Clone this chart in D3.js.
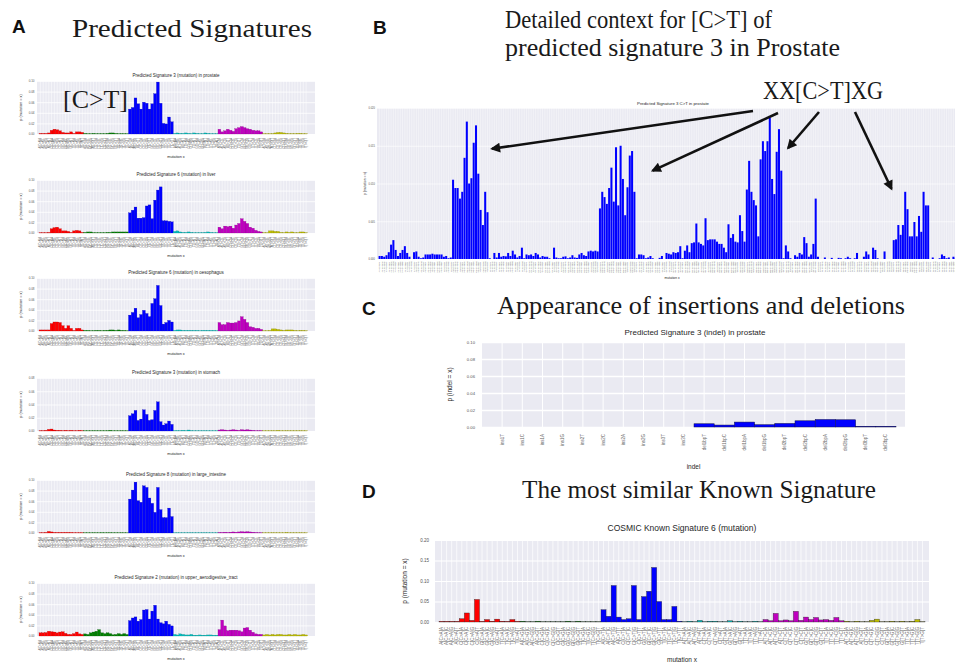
<!DOCTYPE html>
<html>
<head>
<meta charset="utf-8">
<script src="https://cdn.jsdelivr.net/npm/d3@7"></script>
<style>
  body { margin: 0; background: #fff; }
  svg { display: block; font-family: "Liberation Sans", Arial, sans-serif; }
  .serif { font-family: "Liberation Serif", "Times New Roman", serif; fill: #1a1a1a; }
  .letter { font-family: "Liberation Sans", Arial, sans-serif; font-weight: bold; fill: #111; }
</style>
</head>
<body>
<svg id="fig" width="955" height="665"></svg>
<script>
// ---------- data ----------
const bases = ['A', 'C', 'G', 'T'];
const substitutions = ['C>A', 'C>G', 'C>T', 'T>A', 'T>C', 'T>G'];
const subColours = ['#ff0000', '#008000', '#0000ff', '#00bfbf', '#bf00bf', '#bfbf00'];

// tick labels of the 96 contexts, A[C>A]A ... T[T>G]T
const mutationLabels = [];
substitutions.forEach(s => bases.forEach(b1 => bases.forEach(b2 => mutationLabels.push(`${b1}[${s}]${b2}`))));

// tick labels of the 256 detailed C>T contexts
const ctLabels = [];
bases.forEach(b1 => bases.forEach(b2 => bases.forEach(b3 => bases.forEach(b4 => ctLabels.push(`${b1}${b2}[C>T]${b3}${b4}`)))));

const indelLabels = ['ins1T', 'ins1C', 'ins1A', 'ins1G', 'ins2T', 'ins2C', 'ins2A', 'ins2G', 'ins3T', 'ins3C',
  'del1bpT', 'del1bpC', 'del1bpA', 'del1bpG', 'del2bpT', 'del2bpC', 'del2bpA', 'del2bpG', 'del3bpT', 'del3bpC'];

const sigTitles = [
  'Predicted Signature 3 (mutation) in prostate',
  'Predicted Signature 6 (mutation) in liver',
  'Predicted Signature 6 (mutation) in oesophagus',
  'Predicted Signature 3 (mutation) in stomach',
  'Predicted Signature 8 (mutation) in large_intestine',
  'Predicted Signature 2 (mutation) in upper_aerodigestive_tract'
];
const sigYMax = [0.10, 0.10, 0.10, 0.08, 0.10, 0.10];

const sigProstate = [
  0.001, 0.001, 0.001, 0.002, 0.007, 0.009, 0.008, 0.006, 0.003, 0.002, 0.002, 0.004, 0.001, 0.004, 0.004, 0.003,
  0.001, 0.0005, 0.0005, 0.001, 0.0005, 0.0005, 0.0005, 0.0005, 0.001, 0.002, 0.002, 0.001, 0.0005, 0.0005, 0.0005, 0.0005,
  0.047, 0.050, 0.068, 0.057, 0.047, 0.060, 0.058, 0.047, 0.057, 0.076, 0.098, 0.058, 0.020, 0.019, 0.032, 0.023,
  0.001, 0.002, 0.001, 0.001, 0.002, 0.001, 0.0005, 0.002, 0.001, 0.0005, 0.0005, 0.002, 0.001, 0.0005, 0.0005, 0.0005,
  0.009, 0.004, 0.006, 0.009, 0.007, 0.005, 0.010, 0.012, 0.014, 0.012, 0.010, 0.009, 0.007, 0.006, 0.006, 0.004,
  0.0005, 0.0005, 0.0005, 0.0005, 0.002, 0.003, 0.003, 0.002, 0.001, 0.0005, 0.0005, 0.0005, 0.001, 0.001, 0.0005, 0.0005
];
const sigLiver = [
  0.0005, 0.0005, 0.0005, 0.001, 0.008, 0.010, 0.011, 0.008, 0.004, 0.004, 0.003, 0.001, 0.004, 0.005, 0.004, 0.001,
  0.001, 0.002, 0.002, 0.0005, 0.0005, 0.0005, 0.0005, 0.0005, 0.001, 0.001, 0.002, 0.002, 0.002, 0.002, 0.002, 0.002,
  0.038, 0.043, 0.049, 0.028, 0.028, 0.029, 0.051, 0.053, 0.027, 0.062, 0.081, 0.087, 0.023, 0.023, 0.022, 0.021,
  0.003, 0.004, 0.002, 0.001, 0.001, 0.002, 0.001, 0.0005, 0.0005, 0.0005, 0.0005, 0.001, 0.002, 0.001, 0.0005, 0.0005,
  0.011, 0.008, 0.013, 0.012, 0.013, 0.009, 0.015, 0.018, 0.027, 0.022, 0.018, 0.011, 0.009, 0.005, 0.003, 0.002,
  0.0005, 0.0005, 0.004, 0.004, 0.003, 0.003, 0.001, 0.0005, 0.002, 0.001, 0.002, 0.0005, 0.0005, 0.002, 0.002, 0.0005
];
const sigOesophagus = [
  0.002, 0.002, 0.002, 0.002, 0.014, 0.017, 0.017, 0.016, 0.010, 0.005, 0.010, 0.005, 0.001, 0.005, 0.005, 0.002,
  0.001, 0.001, 0.0005, 0.0005, 0.001, 0.001, 0.0005, 0.001, 0.001, 0.002, 0.002, 0.001, 0.002, 0.001, 0.001, 0.0005,
  0.030, 0.035, 0.043, 0.025, 0.031, 0.039, 0.033, 0.027, 0.052, 0.061, 0.086, 0.048, 0.013, 0.016, 0.020, 0.017,
  0.001, 0.002, 0.002, 0.001, 0.001, 0.001, 0.001, 0.001, 0.001, 0.0005, 0.001, 0.001, 0.001, 0.001, 0.001, 0.0005,
  0.016, 0.012, 0.012, 0.016, 0.015, 0.015, 0.016, 0.019, 0.027, 0.022, 0.016, 0.008, 0.007, 0.005, 0.005, 0.003,
  0.0005, 0.0005, 0.001, 0.004, 0.004, 0.003, 0.002, 0.001, 0.002, 0.002, 0.002, 0.001, 0.0005, 0.001, 0.001, 0.0005
];
const sigStomach = [
  0.0005, 0.0005, 0.001, 0.0025, 0.003, 0.0015, 0.001, 0.001, 0.0005, 0.001, 0.0005, 0.001, 0.0005, 0.0005, 0.001, 0.0005,
  0.0003, 0.0003, 0.0003, 0.0003, 0.0003, 0.0003, 0.0003, 0.0003, 0.0003, 0.001, 0.0003, 0.0003, 0.0003, 0.0003, 0.0003, 0.0003,
  0.023, 0.026, 0.031, 0.016, 0.018, 0.032, 0.025, 0.016, 0.017, 0.031, 0.044, 0.014, 0.009, 0.011, 0.015, 0.010,
  0.0005, 0.0005, 0.0005, 0.001, 0.0005, 0.0015, 0.0005, 0.0003, 0.0003, 0.0003, 0.0003, 0.0003, 0.0003, 0.0003, 0.0003, 0.0003,
  0.0015, 0.002, 0.0015, 0.001, 0.0015, 0.002, 0.0015, 0.001, 0.002, 0.0015, 0.002, 0.0015, 0.001, 0.0005, 0.0005, 0.0005,
  0.0003, 0.0003, 0.0003, 0.0003, 0.0003, 0.001, 0.0003, 0.0003, 0.0003, 0.0003, 0.0003, 0.0003, 0.0003, 0.0003, 0.0003, 0.0003
];
const sigLargeIntestine = [
  0.0005, 0.0005, 0.001, 0.003, 0.002, 0.001, 0.001, 0.001, 0.001, 0.001, 0.001, 0.001, 0.0005, 0.0005, 0.0005, 0.0005,
  0.0003, 0.0003, 0.0003, 0.0003, 0.0003, 0.0003, 0.0005, 0.0003, 0.0003, 0.0005, 0.0003, 0.0003, 0.0003, 0.0003, 0.0003, 0.0003,
  0.064, 0.081, 0.096, 0.061, 0.058, 0.089, 0.086, 0.066, 0.056, 0.039, 0.086, 0.044, 0.029, 0.029, 0.047, 0.031,
  0.0003, 0.0003, 0.0003, 0.0003, 0.0003, 0.0003, 0.0003, 0.0003, 0.0003, 0.0003, 0.0003, 0.0003, 0.0003, 0.0003, 0.0003, 0.0003,
  0.001, 0.001, 0.0015, 0.001, 0.0015, 0.002, 0.0015, 0.002, 0.0025, 0.002, 0.0025, 0.002, 0.0015, 0.001, 0.0005, 0.0005,
  0.0003, 0.0003, 0.0003, 0.0003, 0.0003, 0.0003, 0.0003, 0.0003, 0.001, 0.0003, 0.0003, 0.0003, 0.0003, 0.0003, 0.0003, 0.0003
];
const sigUpperAero = [
  0.006, 0.006, 0.0065, 0.009, 0.008, 0.0075, 0.006, 0.0075, 0.008, 0.005, 0.003, 0.003, 0.0045, 0.0075, 0.004, 0.003,
  0.004, 0.003, 0.006, 0.0075, 0.009, 0.012, 0.006, 0.0045, 0.006, 0.0045, 0.0025, 0.003, 0.0045, 0.003, 0.0045, 0.003,
  0.029, 0.034, 0.036, 0.028, 0.031, 0.049, 0.050, 0.032, 0.047, 0.058, 0.032, 0.025, 0.023, 0.028, 0.022, 0.019,
  0.003, 0.002, 0.004, 0.003, 0.002, 0.002, 0.003, 0.0015, 0.0015, 0.002, 0.0015, 0.0015, 0.002, 0.002, 0.0015, 0.0015,
  0.012, 0.030, 0.019, 0.010, 0.011, 0.011, 0.011, 0.010, 0.008, 0.015, 0.016, 0.011, 0.007, 0.004, 0.003, 0.003,
  0.002, 0.003, 0.002, 0.003, 0.002, 0.003, 0.003, 0.002, 0.002, 0.003, 0.002, 0.003, 0.002, 0.002, 0.003, 0.002
];

// detailed C>T context of signature 3 in prostate, by first base
const ctFirstA = [
  0.0004, 0.0004, 0.0003, 0.0005, 0.0009, 0.0019, 0.0025, 0.0012, 0.0004, 0.0008, 0.0012, 0.0017, 0.0008, 0.0003, 0.0000, 0.0009,
  0.0010, 0.0003, 0.0001, 0.0002, 0.0006, 0.0006, 0.0006, 0.0007, 0.0006, 0.0006, 0.0006, 0.0006, 0.0003, 0.0004, 0.0001, 0.0002,
  0.0105, 0.0094, 0.0094, 0.0080, 0.0089, 0.0134, 0.0182, 0.0100, 0.0107, 0.0154, 0.0177, 0.0113, 0.0065, 0.0045, 0.0089, 0.0062,
  0.0001, 0.0000, 0.0008, 0.0002, 0.0008, 0.0003, 0.0004, 0.00035, 0.0008, 0.0004, 0.0011, 0.0006, 0.0002, 0.0004, 0.0015, 0.0001
];
const ctFirstC = [
  0.0006, 0.0005, 0.0006, 0.0004, 0.0008, 0.0006, 0.0002, 0.0004, 0.0003, 0.0003, 0.0001, 0.0000, 0.0015, 0.0002, 0.0001, 0.0001,
  0.0003, 0.00035, 0.0001, 0.0002, 0.0005, 0.0002, 0.00015, 0.0006, 0.0008, 0.0005, 0.0004, 0.0010, 0.0011, 0.0010, 0.0011, 0.0010,
  0.0067, 0.0089, 0.0082, 0.0073, 0.0094, 0.0121, 0.0076, 0.0148, 0.0071, 0.0150, 0.0106, 0.0058, 0.0095, 0.0137, 0.0143, 0.0089,
  0.0001, 0.0006, 0.0006, 0.0005, 0.0001, 0.0002, 0.0004, 0.0001, 0.0000, 0.0000, 0.00015, 0.0004, 0.0000, 0.0008, 0.0007, 0.0006
];
const ctFirstG = [
  0.0009, 0.0008, 0.0009, 0.0017, 0.0001, 0.0011, 0.0018, 0.0009, 0.0021, 0.0022, 0.0047, 0.0022, 0.0020, 0.0018, 0.0054, 0.0025,
  0.0026, 0.0026, 0.0026, 0.0023, 0.0020, 0.0020, 0.0015, 0.0009, 0.0046, 0.0028, 0.0033, 0.0023, 0.0022, 0.0058, 0.0037, 0.0023,
  0.0092, 0.0130, 0.0089, 0.0078, 0.0071, 0.0030, 0.0132, 0.0156, 0.0143, 0.0156, 0.0187, 0.0106, 0.0086, 0.0142, 0.0172, 0.0117,
  0.0001, 0.0018, 0.0010, 0.0001, 0.0000, 0.0005, 0.0003, 0.0008, 0.0006, 0.0029, 0.0021, 0.0003, 0.0006, 0.0020, 0.0080, 0.0003
];
const ctFirstT = [
  0.0000, 0.0000, 0.0002, 0.0000, 0.0000, 0.00015, 0.0000, 0.0000, 0.00015, 0.0001, 0.0000, 0.0001, 0.0003, 0.0001, 0.0000, 0.0001,
  0.0008, 0.0000, 0.0000, 0.0003, 0.0010, 0.0006, 0.0000, 0.0015, 0.0012, 0.0001, 0.0000, 0.0000, 0.0010, 0.0000, 0.0000, 0.0000,
  0.0025, 0.0026, 0.0045, 0.0032, 0.0045, 0.0089, 0.0066, 0.0030, 0.0030, 0.0049, 0.0030, 0.0057, 0.0036, 0.0089, 0.0071, 0.0071,
  0.0000, 0.0002, 0.0000, 0.0000, 0.0001, 0.0006, 0.0004, 0.0001, 0.0002, 0.0000, 0.0003, 0.0001, 0.0000, 0.0002, 0.0001, 0.0000
];

const indelValues = [0, 0, 0, 0, 0, 0, 0, 0, 0, 0,
  0.0038, 0.0023, 0.0058, 0.0027, 0.0042, 0.0073, 0.0088, 0.0085, 0.0008, 0.0008];

const cosmicSig6 = [
  0.0016, 0.0016, 0.0016, 0.0016, 0.008, 0.022, 0.004, 0.055, 0.0016, 0.006, 0.002, 0.007, 0.002, 0.0016, 0.006, 0.0016,
  0.002, 0.0005, 0.0005, 0.002, 0.0005, 0.0005, 0.0005, 0.0005, 0.0005, 0.002, 0.0005, 0.002, 0.0005, 0.0005, 0.0005, 0.0005,
  0.030, 0.014, 0.089, 0.012, 0.006, 0.008, 0.089, 0.006, 0.062, 0.075, 0.133, 0.050, 0.006, 0.006, 0.038, 0.002,
  0.0005, 0.002, 0.0005, 0.004, 0.0005, 0.002, 0.002, 0.0005, 0.0005, 0.003, 0.0005, 0.002, 0.0005, 0.0005, 0.002, 0.0005,
  0.006, 0.003, 0.021, 0.003, 0.005, 0.003, 0.026, 0.004, 0.012, 0.006, 0.011, 0.005, 0.006, 0.004, 0.011, 0.003,
  0.002, 0.0005, 0.002, 0.0005, 0.0005, 0.004, 0.007, 0.0005, 0.0005, 0.002, 0.0005, 0.002, 0.0005, 0.002, 0.006, 0.0005
];

// ---------- drawing ----------
const svg = d3.select('#fig');
const subColour = i => subColours[Math.floor(i / 16)];

// one seaborn-like bar chart
function barChart(cfg) {
  const g = svg.append('g');
  const n = cfg.values.length;
  const x = d3.scaleBand().domain(d3.range(n)).range(cfg.band).paddingInner(cfg.pad || 0);
  const y = d3.scaleLinear().domain([0, cfg.yMax]).range([cfg.bottom, cfg.top]);
  const mid = i => x(i) + x.bandwidth() / 2;
  const cx = (cfg.left + cfg.right) / 2;

  g.append('rect')
    .attr('x', cfg.left).attr('y', cfg.top)
    .attr('width', cfg.right - cfg.left).attr('height', cfg.bottom - cfg.top)
    .attr('fill', '#eaeaf2');

  g.append('g').selectAll('line')
    .data(d3.range(n))
    .join('line')
    .attr('x1', mid).attr('x2', mid)
    .attr('y1', cfg.top).attr('y2', cfg.bottom)
    .attr('stroke', '#fff')
    .attr('stroke-width', cfg.grid);

  const yAxis = d3.axisLeft(y)
    .tickValues(cfg.yTicks)
    .tickSize(-(cfg.right - cfg.left))
    .tickFormat(d3.format(cfg.fmt));

  const axis = g.append('g')
    .attr('transform', `translate(${cfg.left},0)`)
    .call(yAxis);
  axis.attr('font-family', null);
  axis.select('.domain').remove();
  axis.selectAll('.tick line').attr('stroke', '#fff').attr('stroke-width', cfg.grid * 1.6);
  axis.selectAll('.tick text')
    .attr('x', -cfg.tickGap)
    .attr('font-size', cfg.tickFont)
    .attr('fill', '#555');

  g.append('g').selectAll('rect')
    .data(cfg.values)
    .join('rect')
    .attr('x', (d, i) => x(i))
    .attr('width', x.bandwidth())
    .attr('y', d => y(d))
    .attr('height', d => y(0) - y(d))
    .attr('fill', (d, i) => cfg.colour(i))
    .attr('stroke', (d, i) => cfg.edge ? cfg.edge(i) : 'none')
    .attr('stroke-width', cfg.edgeWidth || 0);

  g.append('g').selectAll('text')
    .data(cfg.labels)
    .join('text')
    .attr('transform', (d, i) => `translate(${mid(i)},${cfg.bottom + cfg.labelGap}) rotate(-90)`)
    .attr('text-anchor', 'end')
    .attr('dy', '0.35em')
    .attr('font-size', cfg.labelFont)
    .attr('fill', '#666')
    .text(d => d);

  g.append('text')
    .attr('x', cfg.titleX || cx).attr('y', cfg.top - cfg.titleGap)
    .attr('text-anchor', 'middle')
    .attr('font-size', cfg.titleFont)
    .attr('fill', '#262626')
    .text(cfg.title);

  g.append('text')
    .attr('x', cfg.xLabelX || cx).attr('y', cfg.xLabelY)
    .attr('text-anchor', 'middle')
    .attr('font-size', cfg.axisFont)
    .attr('fill', '#262626')
    .text(cfg.xLabel);

  g.append('text')
    .attr('transform', `translate(${cfg.yLabelX},${(cfg.top + cfg.bottom) / 2}) rotate(-90)`)
    .attr('text-anchor', 'middle')
    .attr('font-size', cfg.axisFont)
    .attr('fill', '#262626')
    .text(cfg.yLabel);

  return { x, y };
}

// panel A: six predicted signatures
const sigValues = [sigProstate, sigLiver, sigOesophagus, sigStomach, sigLargeIntestine, sigUpperAero];
const sigTops = [81, 180, 278, 378, 480, 583];

sigValues.forEach((vals, k) => {
  const top = sigTops[k];
  barChart({
    values: vals, labels: mutationLabels, colour: subColour,
    edge: i => d3.color(subColour(i)).darker(1), edgeWidth: 0.25,
    left: 37, right: 315, top: top, bottom: top + 53, band: [39, 307.5],
    yMax: sigYMax[k], yTicks: d3.range(0, sigYMax[k] + 0.001, 0.02), fmt: '.2f',
    grid: 0.5, tickFont: 3, tickGap: 2.5,
    labelFont: 2.7, labelGap: 4,
    title: sigTitles[k], titleFont: 4.5, titleGap: 4,
    xLabel: 'mutation x', xLabelY: top + 77, yLabel: 'p (mutation = x)', yLabelX: 22, axisFont: 3.8
  });
});

// panel B: detailed C>T context
const ctValues = [].concat(ctFirstA, ctFirstC, ctFirstG, ctFirstT);
const panelB = barChart({
  values: ctValues, labels: ctLabels, colour: () => '#0000ff',
  left: 377, right: 962, top: 108, bottom: 259, band: [378.6, 965.9], pad: 0.12,
  yMax: 0.02, yTicks: [0, 0.005, 0.01, 0.015, 0.02], fmt: '.3f',
  grid: 0.4, tickFont: 2.6, tickGap: 2,
  labelFont: 2.1, labelGap: 2.5,
  title: 'Predicted Signature 3 C>T in prostate', titleX: 673, titleFont: 4.3, titleGap: 3.5,
  xLabel: 'mutation x', xLabelX: 672, xLabelY: 279, yLabel: 'p (mutation = x)', yLabelX: 366, axisFont: 3.3
});

// panel C: indels
barChart({
  values: indelValues, labels: indelLabels, colour: () => '#0000ff',
  edge: () => '#10104a', edgeWidth: 0.5,
  left: 482, right: 905, top: 342, bottom: 427, band: [492, 896],
  yMax: 0.10, yTicks: d3.range(0, 0.101, 0.02), fmt: '.2f',
  grid: 1, tickFont: 4.2, tickGap: 7,
  labelFont: 4.5, labelGap: 7,
  title: 'Predicted Signature 3 (indel) in prostate', titleX: 695, titleFont: 8, titleGap: 7,
  xLabel: 'indel', xLabelY: 469, yLabel: 'p (indel = x)', yLabelX: 452, axisFont: 6.5
});

// panel D: most similar COSMIC signature
barChart({
  values: cosmicSig6, labels: mutationLabels, colour: subColour,
  edge: () => '#222', edgeWidth: 0.35,
  left: 435, right: 929, top: 540, bottom: 622, band: [439, 925],
  yMax: 0.20, yTicks: [0, 0.05, 0.10, 0.15, 0.20], fmt: '.2f',
  grid: 0.7, tickFont: 4.5, tickGap: 6,
  labelFont: 4.6, labelGap: 5,
  title: 'COSMIC Known Signature 6 (mutation)', titleFont: 8.5, titleGap: 9,
  xLabel: 'mutation x', xLabelY: 662, yLabel: 'p (mutation = x)', yLabelX: 407, axisFont: 6.5
});

// ---------- headings and annotations ----------
function heading(txt, x, y, len, size) {
  svg.append('text').attr('class', 'serif')
    .attr('x', x).attr('y', y)
    .attr('font-size', size || 25)
    .attr('textLength', len).attr('lengthAdjust', 'spacingAndGlyphs')
    .text(txt);
}
heading('Predicted Signatures', 72, 37, 240);
heading('Detailed context for [C>T] of', 505, 28, 267);
heading('predicted signature 3 in Prostate', 505, 56, 335);
heading('Appearance of insertions and deletions', 497, 314, 408);
heading('The most similar Known Signature', 522, 498, 354);
heading('[C>T]', 63, 108, 65);
heading('XX[C>T]XG', 763, 99, 120);

[['A', 12, 33], ['B', 373, 34], ['C', 362, 315], ['D', 362, 498]].forEach(([t, x, y]) => {
  svg.append('text').attr('class', 'letter').attr('x', x).attr('y', y).attr('font-size', 19).text(t);
});

// arrows from the XX[C>T]XG label into panel B
svg.append('defs').append('marker')
  .attr('id', 'head')
  .attr('viewBox', '0 0 10 10')
  .attr('refX', 8).attr('refY', 5)
  .attr('markerUnits', 'userSpaceOnUse')
  .attr('markerWidth', 13).attr('markerHeight', 10)
  .attr('orient', 'auto')
  .append('path').attr('d', 'M0,0 L10,5 L0,10 z').attr('fill', '#111');

const bx = panelB.x, by = panelB.y;
const arrows = [
  { from: [753, 111], bar: 49, value: 0.0146 },
  { from: [778, 113], bar: 119, value: 0.0117 },
  { from: [819, 112], bar: 178, value: 0.0147 },
  { from: [855, 112], bar: 223, value: 0.0093 }
];
svg.append('g').selectAll('line')
  .data(arrows)
  .join('line')
  .attr('x1', d => d.from[0]).attr('y1', d => d.from[1])
  .attr('x2', d => bx(d.bar) + bx.bandwidth() / 2)
  .attr('y2', d => by(d.value))
  .attr('stroke', '#111')
  .attr('stroke-width', 2.6)
  .attr('marker-end', 'url(#head)');
</script>
</body>
</html>
